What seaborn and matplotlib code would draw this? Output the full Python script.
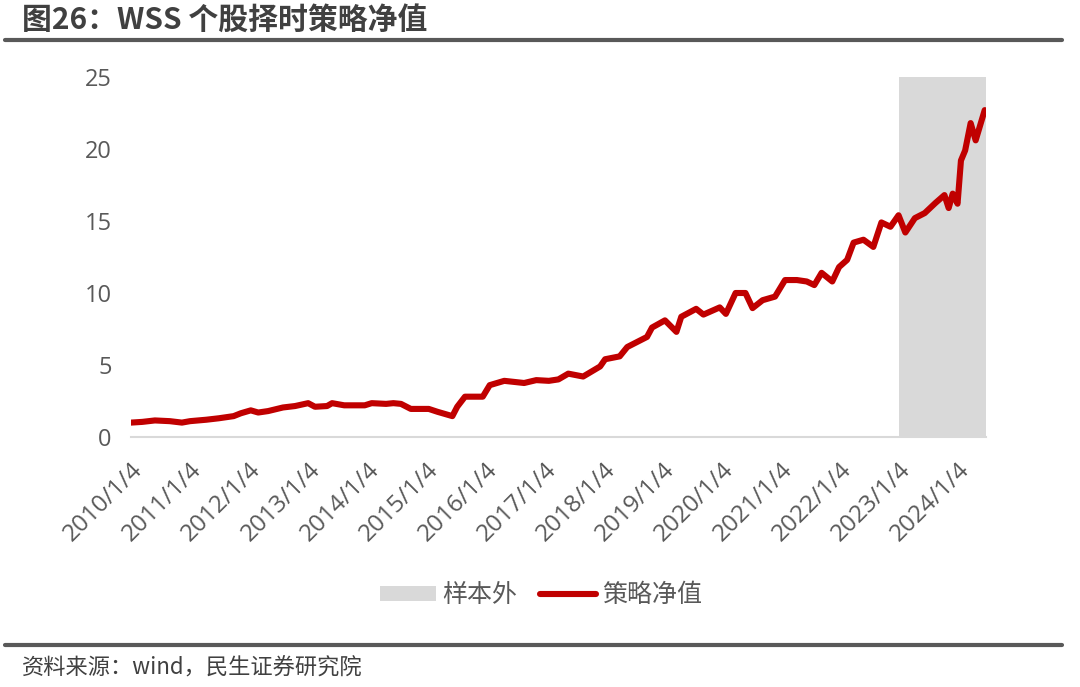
import matplotlib
matplotlib.use("Agg")
import matplotlib.pyplot as plt
from matplotlib.patches import Patch
from matplotlib.lines import Line2D
import seaborn as sns
import pandas as pd

# ---- data ----
dates = [
    "2010-01-04", "2010-03-15", "2010-06-01", "2010-09-01", "2010-11-15",
    "2011-01-04", "2011-04-15", "2011-07-01", "2011-10-01", "2011-11-15",
    "2012-01-15", "2012-03-01", "2012-05-01", "2012-08-01", "2012-10-15",
    "2013-01-04", "2013-02-15", "2013-05-01", "2013-06-01", "2013-08-15",
    "2013-11-01", "2013-12-20", "2014-02-01", "2014-05-01", "2014-06-15",
    "2014-08-01", "2014-10-01", "2015-01-20", "2015-03-15", "2015-06-15",
    "2015-07-15", "2015-09-01", "2015-12-20", "2016-02-01", "2016-05-01",
    "2016-09-01", "2016-11-15", "2017-02-01", "2017-04-01", "2017-06-01",
    "2017-09-01", "2017-12-15", "2018-01-15", "2018-04-15", "2018-06-01",
    "2018-10-01", "2018-11-01", "2019-01-20", "2019-04-01", "2019-05-01",
    "2019-08-01", "2019-09-15", "2019-12-25", "2020-02-01", "2020-04-01",
    "2020-06-01", "2020-07-15", "2020-09-15", "2020-12-01", "2021-02-01",
    "2021-04-15", "2021-06-15", "2021-08-01", "2021-09-15", "2021-11-20",
    "2022-01-01", "2022-02-20", "2022-04-01", "2022-06-01", "2022-08-01",
    "2022-09-20", "2022-11-15", "2023-01-04", "2023-02-15", "2023-04-15",
    "2023-06-15", "2023-08-20", "2023-10-15", "2023-11-10", "2023-12-05",
    "2024-01-04", "2024-01-25", "2024-02-20", "2024-03-25", "2024-04-25",
    "2024-06-20",
]
nav = [
    1.0, 1.05, 1.15, 1.1, 1.0,
    1.1, 1.2, 1.3, 1.45, 1.65,
    1.85, 1.7, 1.8, 2.05, 2.15,
    2.35, 2.1, 2.15, 2.35, 2.2,
    2.2, 2.2, 2.35, 2.3, 2.35,
    2.3, 1.95, 1.95, 1.75, 1.45,
    2.1, 2.8, 2.8, 3.6, 3.9,
    3.75, 3.95, 3.9, 4.0, 4.4,
    4.2, 4.9, 5.4, 5.6, 6.25,
    6.95, 7.6, 8.1, 7.3, 8.35,
    8.9, 8.5, 9.0, 8.55, 10.0,
    10.0, 8.95, 9.5, 9.75, 10.9,
    10.9, 10.8, 10.55, 11.4, 10.8,
    11.8, 12.3, 13.5, 13.7, 13.2,
    14.9, 14.6, 15.4, 14.2, 15.2,
    15.55, 16.25, 16.8, 15.9, 16.9,
    16.2, 19.2, 19.9, 21.8, 20.6,
    22.7,
]
tick_labels = [f"{y}/1/4" for y in range(2010, 2025)]
oos_start = "2023-01-04"
x_end = "2024-06-28"
series_name = "策略净值"
oos_name = "样本外"
title = "图26：WSS 个股择时策略净值"
source = "资料来源：wind，民生证券研究院"

df = pd.DataFrame({"date": pd.to_datetime(dates), "nav": nav})

sns.set_style("white")
plt.rcParams["font.family"] = ["Noto Sans CJK SC", "DejaVu Sans"]
tick_font = ["Open Sans", "Noto Sans CJK SC"]

W, H = 1080, 687
fig = plt.figure(figsize=(W / 100, H / 100), dpi=100)
ax = fig.add_axes([131 / W, 1 - 437 / H, (986 - 131) / W, (437 - 77) / H])

red = "#c00000"
gray_fill = "#d9d9d9"
txt = "#595959"

ax.axvspan(pd.Timestamp(oos_start), pd.Timestamp(x_end), ymin=0, ymax=1,
           color=gray_fill, lw=0, zorder=0)
sns.lineplot(data=df, x="date", y="nav", ax=ax, color=red, lw=4.4,
             solid_capstyle="round", solid_joinstyle="round", zorder=3)

ax.set_xlim(pd.Timestamp("2010-01-04"), pd.Timestamp(x_end))
ax.set_ylim(0, 25)
ax.set_yticks([0, 5, 10, 15, 20, 25])
ax.set_yticklabels([str(v) for v in [0, 5, 10, 15, 20, 25]], family=tick_font)
ax.set_xticks(pd.to_datetime([f"{y}-01-04" for y in range(2010, 2025)]))
ax.set_xticklabels(tick_labels, rotation=45, ha="right", rotation_mode="anchor",
                   family=tick_font)
ax.set_xlabel("")
ax.set_ylabel("")

for s in ["top", "right", "left"]:
    ax.spines[s].set_visible(False)
ax.spines["bottom"].set_color("#d9d9d9")
ax.spines["bottom"].set_linewidth(1.5)
ax.tick_params(axis="x", colors="#d9d9d9", direction="out", length=7, width=1.5,
               labelcolor=txt, labelsize=17.5, pad=8)
ax.tick_params(axis="y", length=0, labelcolor=txt, labelsize=17, pad=14)

# legend
handles = [Patch(facecolor=gray_fill, edgecolor="none", label=oos_name),
           Line2D([0], [0], color=red, lw=4.4, solid_capstyle="round", label=series_name)]
fig.legend(handles=handles, loc="center", bbox_to_anchor=(541 / W, 1 - 595 / H),
           ncol=2, frameon=False, fontsize=18, handlelength=2.25, handleheight=0.55,
           handletextpad=0.25, columnspacing=0.9, labelcolor=txt)

# title and footer
fig.text(22 / W, 1 - 20 / H, title, fontsize=21.5, fontweight="bold", color="#404040",
         ha="left", va="center")
fig.add_artist(Line2D([5 / W, 1062 / W], [1 - 40 / H, 1 - 40 / H], color="#595959", lw=3,
                      transform=fig.transFigure))
fig.add_artist(Line2D([5 / W, 1062 / W], [1 - 645 / H, 1 - 645 / H], color="#595959", lw=3,
                      transform=fig.transFigure))
fig.text(22 / W, 1 - 668 / H, source, fontsize=16, color="#404040", ha="left", va="center")

fig.savefig("out.png", dpi=100)
